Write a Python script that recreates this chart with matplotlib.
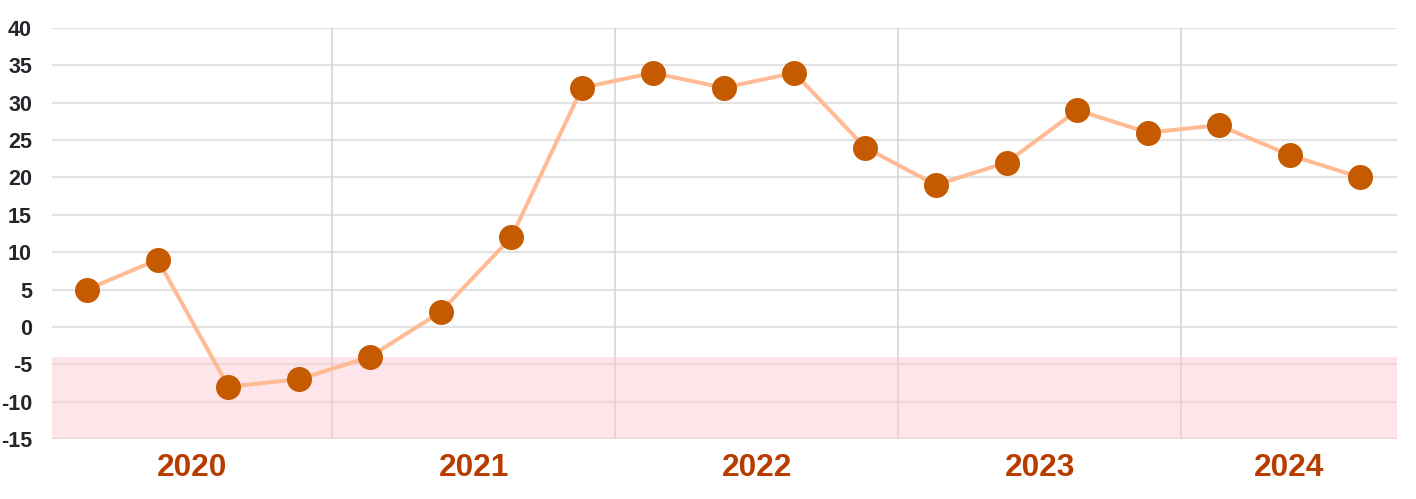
from matplotlib import pyplot as plt
import numpy as np

plt.rcParams['font.family'] = ['Liberation Sans', 'DejaVu Sans']

# quarterly series, 2020 Q1 .. 2024 Q3
years = [2020, 2021, 2022, 2023, 2024]
quarters = ['2020Q1', '2020Q2', '2020Q3', '2020Q4',
            '2021Q1', '2021Q2', '2021Q3', '2021Q4',
            '2022Q1', '2022Q2', '2022Q3', '2022Q4',
            '2023Q1', '2023Q2', '2023Q3', '2023Q4',
            '2024Q1', '2024Q2', '2024Q3']
values = [5, 9, -8, -7, -4, 2, 12, 32, 34, 32, 34, 24, 19, 22, 29, 26, 27, 23, 20]
band_low, band_high = -15, -4
yticks = list(range(-15, 41, 5))

# x as fractional year, around the middle of each quarter
x = np.array([int(q[:4]) + (int(q[5]) - 1) * 0.25 + 1.6 / 12 for q in quarters])
xmin, xmax = 2020.01, 2024.763

fig, ax = plt.subplots(figsize=(14.16, 4.99), dpi=100)
fig.subplots_adjust(left=52/1416, right=1397/1416, top=1-28/499, bottom=1-439/499)

ax.set_xlim(xmin, xmax)
ax.set_ylim(-15, 40)

# grid
for yv in yticks:
    ax.axhline(yv, color='#e3e3e3', lw=1.6, zorder=0.5)
for yr in years[1:]:
    ax.axvline(yr, color='#d2d2d2', lw=1.1, zorder=0.5)

ax.axhspan(band_low, band_high, color='#fcc6d0', alpha=0.45, lw=0, zorder=1)

ax.plot(x, values, color='#ffbb94', lw=2.9, zorder=2)
ax.plot(x, values, 'o', color='#c55a00', ms=18, mec='none', zorder=3)

ax.set_yticks(yticks)
ax.set_yticklabels([str(v) for v in yticks], fontsize=15.5, fontweight='bold', color='#25262b')
ax.tick_params(axis='y', length=0, pad=14.4)

# year labels centred on visible part of each year
ax.set_xticks([])
for yr in years:
    lo, hi = max(yr, xmin), min(yr + 1, xmax)
    ax.text((lo + hi) / 2, -0.07, str(yr), transform=ax.get_xaxis_transform(),
            ha='center', va='center', fontsize=22.8, fontweight='bold', color='#b83c00')

for s in ax.spines.values():
    s.set_visible(False)

fig.savefig('out.png', dpi=100)
